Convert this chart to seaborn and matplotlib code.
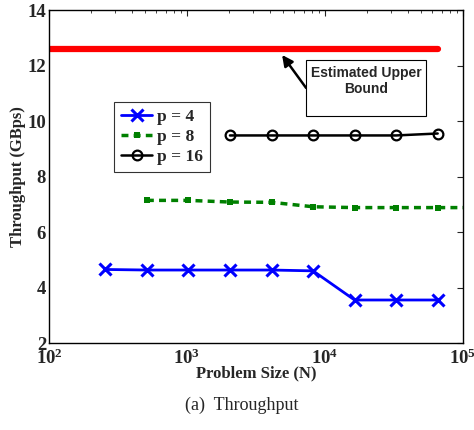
import numpy as np
import pandas as pd
import seaborn as sns
import matplotlib.pyplot as plt
from matplotlib.patches import Rectangle
from matplotlib.ticker import LogLocator, FixedLocator

# data
n_p4 = [256, 512, 1024, 2048, 4096, 8192, 16384, 32768, 65536]
tp_p4 = [4.65, 4.63, 4.63, 4.63, 4.63, 4.60, 3.55, 3.55, 3.55]

n_p8 = [512, 1024, 2048, 4096, 8192, 16384, 32768, 65536, 131072]
tp_p8 = [7.14, 7.14, 7.08, 7.07, 6.91, 6.88, 6.88, 6.88, 6.88]

n_p16 = [2048, 4096, 8192, 16384, 32768, 65536]
tp_p16 = [9.48, 9.48, 9.48, 9.48, 9.48, 9.55]

bound_n = [100, 65536]
bound_tp = [12.6, 12.6]

sns.set_style("white")
plt.rcParams['font.family'] = ['Liberation Serif', 'DejaVu Serif']
plt.rcParams['font.weight'] = 'bold'
plt.rcParams['mathtext.fontset'] = 'custom'
plt.rcParams['mathtext.rm'] = 'Liberation Serif:bold'
plt.rcParams['mathtext.it'] = 'Liberation Serif:bold'
plt.rcParams['mathtext.bf'] = 'Liberation Serif:bold'

fig = plt.figure(figsize=(4.74, 4.30), dpi=100)
ax = fig.add_axes([0.1034, 0.2023, 0.8734, 0.7744])

sns.lineplot(x=bound_n, y=bound_tp, ax=ax, color='red', linewidth=4.5, legend=False)
sns.lineplot(x=n_p4, y=tp_p4, ax=ax, color='blue', linewidth=2, marker='x',
             markersize=8, markeredgewidth=2.2, markeredgecolor='blue', label='p = 4')
sns.lineplot(x=n_p8, y=tp_p8, ax=ax, color='green', linewidth=2.5, linestyle=(0, (2, 1.5)),
             marker='s', markersize=5, markeredgewidth=0, label='p = 8')
sns.lineplot(x=n_p16, y=tp_p16, ax=ax, color='black', linewidth=1.8, marker='o',
             markersize=7, markerfacecolor='none', markeredgecolor='black',
             markeredgewidth=1.6, label='p = 16')

ax.set_xscale('log')
ax.set_xlim(100, 100000)
ax.set_ylim(2, 14)
ax.yaxis.set_major_locator(FixedLocator([2, 4, 6, 8, 10, 12, 14]))
ax.xaxis.set_major_locator(LogLocator(base=10))
ax.xaxis.set_minor_locator(LogLocator(base=10, subs=np.arange(2, 10)))
ax.xaxis.set_minor_formatter(plt.NullFormatter())

ax.tick_params(which='both', direction='in', top=True, right=True, labelsize=13.5)
ax.tick_params(which='major', length=4, width=0.8)
ax.tick_params(which='minor', length=2, width=0.6)
for lab in ax.get_xticklabels() + ax.get_yticklabels():
    lab.set_fontweight('bold')
ax.tick_params(axis='x', pad=4)
ax.tick_params(axis='y', pad=2)
for s in ax.spines.values():
    s.set_linewidth(1.0)
    s.set_color('black')

ax.set_xlabel('Problem Size (N)', fontsize=12, fontweight='bold', labelpad=-2)
ax.set_ylabel('Throughput (GBps)', fontsize=12, fontweight='bold', labelpad=1)

leg = ax.legend(loc='upper left', bbox_to_anchor=(0.157, 0.724), fontsize=12.5,
                frameon=True, fancybox=False, edgecolor='black', handlelength=1.8,
                handletextpad=0.3, borderpad=0.4, labelspacing=0.22, borderaxespad=0)
leg.get_frame().set_linewidth(0.8)
for t in leg.get_texts():
    t.set_fontweight('bold')

# annotation box and arrow
ax.add_patch(Rectangle((0.621, 0.682), 0.29, 0.168, transform=ax.transAxes,
                       fc='white', ec='black', lw=0.8, zorder=5))
ax.text(0.766, 0.787, 'Estimated Upper\nBound', transform=ax.transAxes,
        fontsize=10, fontweight='bold', family='Liberation Sans',
        ha='center', va='center', linespacing=1.25, zorder=6)
ax.annotate('', xy=(0.563, 0.865), xytext=(0.621, 0.766),
            xycoords='axes fraction', textcoords='axes fraction',
            arrowprops=dict(arrowstyle='-|>', color='black', lw=1.8, mutation_scale=16,
                            shrinkA=0, shrinkB=0))

fig.text(0.51, 0.058, '(a)  Throughput', ha='center', va='center', fontsize=13,
         fontweight='normal')

fig.savefig('out.png', dpi=100)
